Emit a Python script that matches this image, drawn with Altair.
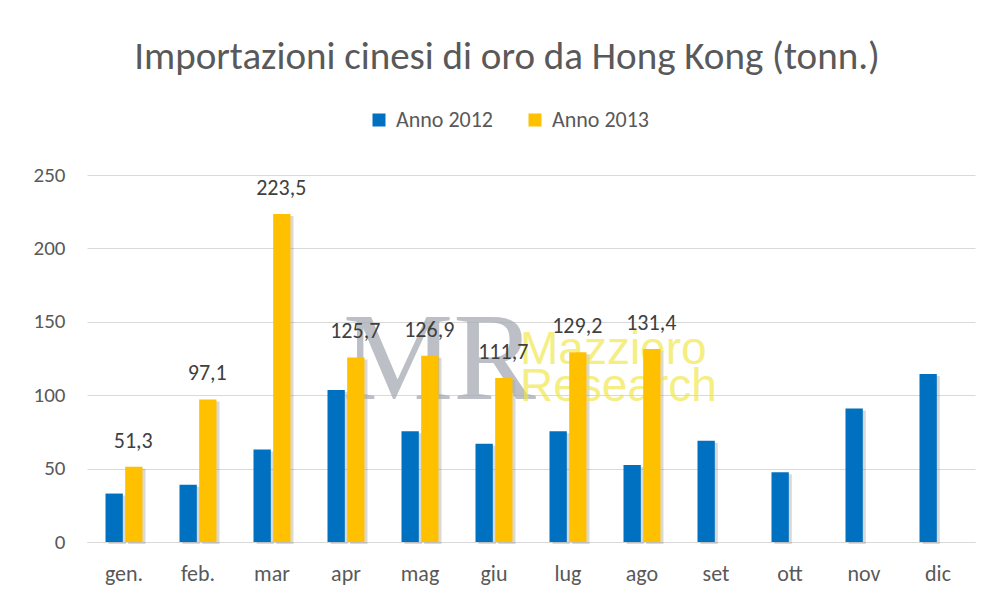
import altair as alt
import pandas as pd

months = ["gen.", "feb.", "mar", "apr", "mag", "giu", "lug", "ago", "set", "ott", "nov", "dic"]
anno_2012 = [33, 39, 63, 103.5, 75.5, 67, 75.5, 52.5, 69, 47.5, 91, 114.5]
anno_2013 = [51.3, 97.1, 223.5, 125.7, 126.9, 111.7, 129.2, 131.4, None, None, None, None]
series = ["Anno 2012", "Anno 2013"]
colors = ["#0070C0", "#FFC000"]

rows = []
for m, a, b in zip(months, anno_2012, anno_2013):
    rows.append({"mese": m, "serie": series[0], "valore": a})
    if b is not None:
        rows.append({"mese": m, "serie": series[1], "valore": b})
df = pd.DataFrame(rows)
df["etichetta"] = df["valore"].map(lambda v: f"{v:.1f}".replace(".", ","))
lab = df[df["serie"] == series[1]]

FONT = "Carlito, Lato"

x = alt.X("mese:N", sort=months, title=None,
          scale=alt.Scale(paddingInner=0.5, paddingOuter=0.25),
          axis=alt.Axis(labelAngle=0, labelFontSize=22, labelColor="#595959", labelFont=FONT,
                        ticks=False, domain=True, domainColor="#D9D9D9", labelPadding=21))
xo = alt.XOffset("serie:N", scale=alt.Scale(domain=series, paddingInner=0.12))
xo_shadow = alt.XOffset("serie:N", scale=alt.Scale(domain=series, paddingInner=0.12, range=[3, 40]))
y = alt.Y("valore:Q", title=None,
          scale=alt.Scale(domain=[0, 250]),
          axis=alt.Axis(values=[0, 50, 100, 150, 200, 250], labelFontSize=21, labelColor="#595959",
                        labelFont=FONT, ticks=False, domain=False, gridColor="#D9D9D9",
                        labelPadding=22, minExtent=70, maxExtent=70))

wm_logo = alt.Chart(pd.DataFrame({"t": ["MR"]})).mark_text(
    fontSize=124, color="#A6ACB3", opacity=0.75, font="Liberation Sans Narrow", align="left", baseline="alphabetic"
).encode(x=alt.value(256), y=alt.value(224), text="t:N")
wm1 = alt.Chart(pd.DataFrame({"t": ["Mazziero"]})).mark_text(
    fontSize=46, color="#F0E640", opacity=0.65, font="Liberation Sans", align="left", baseline="alphabetic"
).encode(x=alt.value(433), y=alt.value(189), text="t:N")
wm2 = alt.Chart(pd.DataFrame({"t": ["Research"]})).mark_text(
    fontSize=46, color="#F0E640", opacity=0.65, font="Liberation Sans", align="left", baseline="alphabetic"
).encode(x=alt.value(433), y=alt.value(226), text="t:N")

shadow = alt.Chart(df).mark_bar(color="#808080", opacity=0.3, yOffset=2).encode(
    x=x, xOffset=xo_shadow, y=y
)

bars = alt.Chart(df).mark_bar().encode(
    x=x, xOffset=xo, y=y,
    color=alt.Color("serie:N", scale=alt.Scale(domain=series, range=colors), title=None,
                    legend=alt.Legend(orient="none", direction="horizontal", legendX=281, legendY=-66,
                                      symbolType="square", symbolSize=169, labelFontSize=22,
                                      labelColor="#595959", labelFont=FONT, columnPadding=30,
                                      symbolStrokeWidth=0, labelOffset=6)),
)

text = alt.Chart(lab).mark_text(fontSize=22, color="#404040", font=FONT, baseline="middle", dy=-26).encode(
    x=x, xOffset=xo, y=y, text="etichetta:N"
)

chart = alt.layer(shadow, wm_logo, wm1, wm2, bars, text).resolve_scale(
    xOffset="independent"
).properties(
    width=888, height=367,
    padding={"left": 9, "top": 30, "right": 10, "bottom": 5},
    title=alt.Title("Importazioni cinesi di oro da Hong Kong (tonn.)", fontSize=39, font=FONT,
                    color="#595959", fontWeight="normal", anchor="middle", offset=32, dx=-24),
    background="white",
).configure_view(stroke=None)

chart.save("out.html", embed_options={"renderer": "svg", "actions": False})
